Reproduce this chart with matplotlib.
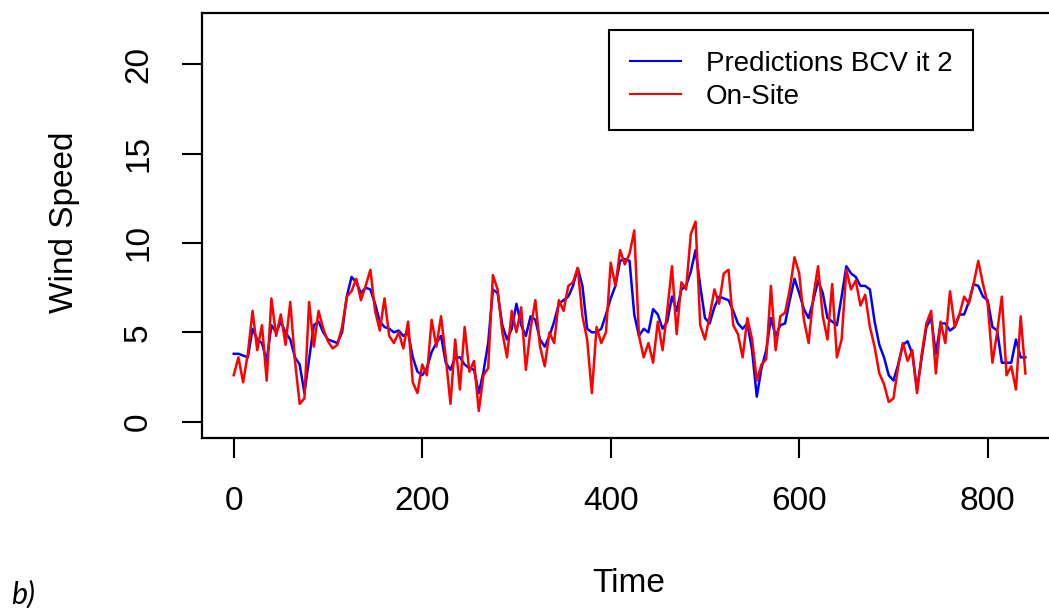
import numpy as np
import matplotlib
matplotlib.use("Agg")
import matplotlib.pyplot as plt

plt.rcParams["font.family"] = ["Liberation Sans", "DejaVu Sans"]

# wind speed series, one value every 5 time steps
step = 5
on_site = [
    2.6, 3.6, 2.2, 3.8, 6.2, 4.0, 5.4, 2.3, 6.9, 4.8,
    6.0, 4.3, 6.7, 3.4, 1.0, 1.3, 6.7, 4.2, 6.2, 5.2,
    4.5, 4.1, 4.3, 5.3, 7.0, 7.3, 8.0, 6.8, 7.6, 8.5,
    6.2, 5.1, 6.9, 4.8, 4.4, 5.0, 4.1, 5.6, 2.2, 1.6,
    3.2, 2.6, 5.7, 4.2, 5.9, 3.6, 1.0, 4.6, 1.8, 5.3,
    2.8, 3.4, 0.6, 2.6, 3.0, 8.2, 7.4, 5.0, 3.6, 6.2,
    5.0, 6.4, 2.9, 5.2, 6.8, 4.2, 3.1, 5.0, 4.4, 6.8,
    6.2, 7.6, 7.8, 8.6, 5.9, 4.6, 1.6, 5.3, 4.4, 5.0,
    8.9, 7.6, 9.6, 8.8, 9.4, 10.7, 4.8, 3.6, 4.4, 3.3,
    5.6, 4.0, 6.2, 8.7, 4.9, 7.8, 7.4, 10.5, 11.2, 5.4,
    4.6, 5.9, 7.4, 6.6, 8.3, 8.5, 5.4, 4.9, 3.6, 5.8,
    4.6, 2.3, 3.2, 3.5, 7.6, 4.0, 5.9, 6.1, 7.4, 9.2,
    8.3, 5.7, 4.4, 7.0, 8.7, 5.9, 4.6, 7.7, 3.6, 4.6,
    8.5, 7.4, 7.9, 6.5, 7.1, 5.3, 4.2, 2.7, 2.1, 1.1,
    1.3, 3.1, 4.4, 3.4, 4.0, 1.6, 3.8, 5.5, 6.2, 2.7,
    5.6, 4.4, 7.3, 5.3, 6.0, 7.0, 6.6, 7.7, 9.0, 7.7,
    6.6, 3.3, 5.0, 7.0, 2.6, 3.1, 1.8, 5.9, 2.7,
]
predictions = [
    3.8, 3.8, 3.7, 3.6, 5.2, 4.6, 4.4, 3.4, 5.4, 5.0,
    5.6, 5.0, 4.6, 3.6, 3.2, 1.6, 3.5, 5.4, 5.6, 5.0,
    4.6, 4.5, 4.4, 5.0, 7.0, 8.1, 7.8, 7.2, 7.5, 7.4,
    6.6, 5.6, 5.3, 5.2, 5.0, 5.1, 4.8, 5.0, 3.6, 2.8,
    2.6, 3.0, 3.9, 4.4, 4.8, 3.3, 2.9, 3.6, 3.6, 3.2,
    3.0, 2.9, 1.6, 2.8, 4.4, 7.4, 7.2, 5.4, 4.6, 5.2,
    6.6, 5.4, 4.8, 5.9, 5.7, 4.6, 4.2, 4.8, 5.6, 6.6,
    6.8, 7.0, 7.6, 8.6, 7.6, 5.2, 5.0, 5.0, 5.2, 6.0,
    6.9, 7.6, 9.0, 9.1, 9.0, 6.0, 4.8, 5.2, 5.0, 6.3,
    6.0, 5.2, 5.6, 7.0, 6.2, 7.4, 7.6, 8.4, 9.6, 7.6,
    5.8, 5.5, 6.4, 7.0, 6.9, 6.8, 6.2, 5.5, 5.2, 5.5,
    4.0, 1.4, 3.0, 4.0, 5.8, 4.8, 5.4, 5.5, 6.8, 8.0,
    7.2, 6.3, 5.8, 6.8, 7.9, 7.2, 5.8, 5.6, 5.4, 7.0,
    8.7, 8.3, 8.1, 7.6, 7.6, 7.4, 5.6, 4.3, 3.6, 2.6,
    2.3, 3.2, 4.3, 4.5, 3.8, 1.8, 3.6, 5.3, 5.8, 3.8,
    5.5, 5.5, 5.1, 5.3, 6.0, 6.0, 6.7, 7.7, 7.6, 7.0,
    6.8, 5.3, 5.1, 3.3, 3.3, 3.3, 4.6, 3.6, 3.6,
]
x_ticks = [0, 200, 400, 600, 800]
y_ticks = [0, 5, 10, 15, 20]

t_site = np.arange(len(on_site)) * step
t_pred = np.arange(len(predictions)) * step

fig = plt.figure(figsize=(10.49, 6.08), dpi=100)
# axes box runs past the right edge of the picture, as in the reference
ax = fig.add_axes([0.1926, 0.2788, 0.8141, 0.6998])

ax.plot(t_pred, predictions, color="blue", lw=1.8, label="Predictions BCV it 2")
ax.plot(t_site, on_site, color="red", lw=1.8, label="On-Site")

ax.set_xlim(-33.6, 872.5)
ax.set_ylim(-0.94, 22.87)
ax.set_xticks(x_ticks)
ax.set_yticks(y_ticks)
ax.tick_params(length=14.5, width=1.5, pad=20, labelsize=24, colors="black")
plt.setp(ax.get_yticklabels(), rotation=90, va="center")
for sp in ax.spines.values():
    sp.set_linewidth(1.6)

ax.set_xlabel("Time", fontsize=24)
ax.xaxis.set_label_coords(0.5, -0.305)
ax.set_ylabel("Wind Speed", fontsize=24)
ax.yaxis.set_label_coords(-0.143, 0.509)

leg = ax.legend(loc="upper left", bbox_to_anchor=(0.477, 0.959), fontsize=20,
                handlelength=1.85, handletextpad=0.9, labelspacing=0.26,
                borderpad=0.73, borderaxespad=0, fancybox=False, framealpha=1)
leg.get_frame().set_edgecolor("black")
leg.get_frame().set_linewidth(1.5)
for h in leg.get_lines():
    h.set_linewidth(1.5)

fig.text(0.011, 0.008, "b)", fontsize=22, style="italic", family="Lato")

fig.savefig("out.png", dpi=100)
